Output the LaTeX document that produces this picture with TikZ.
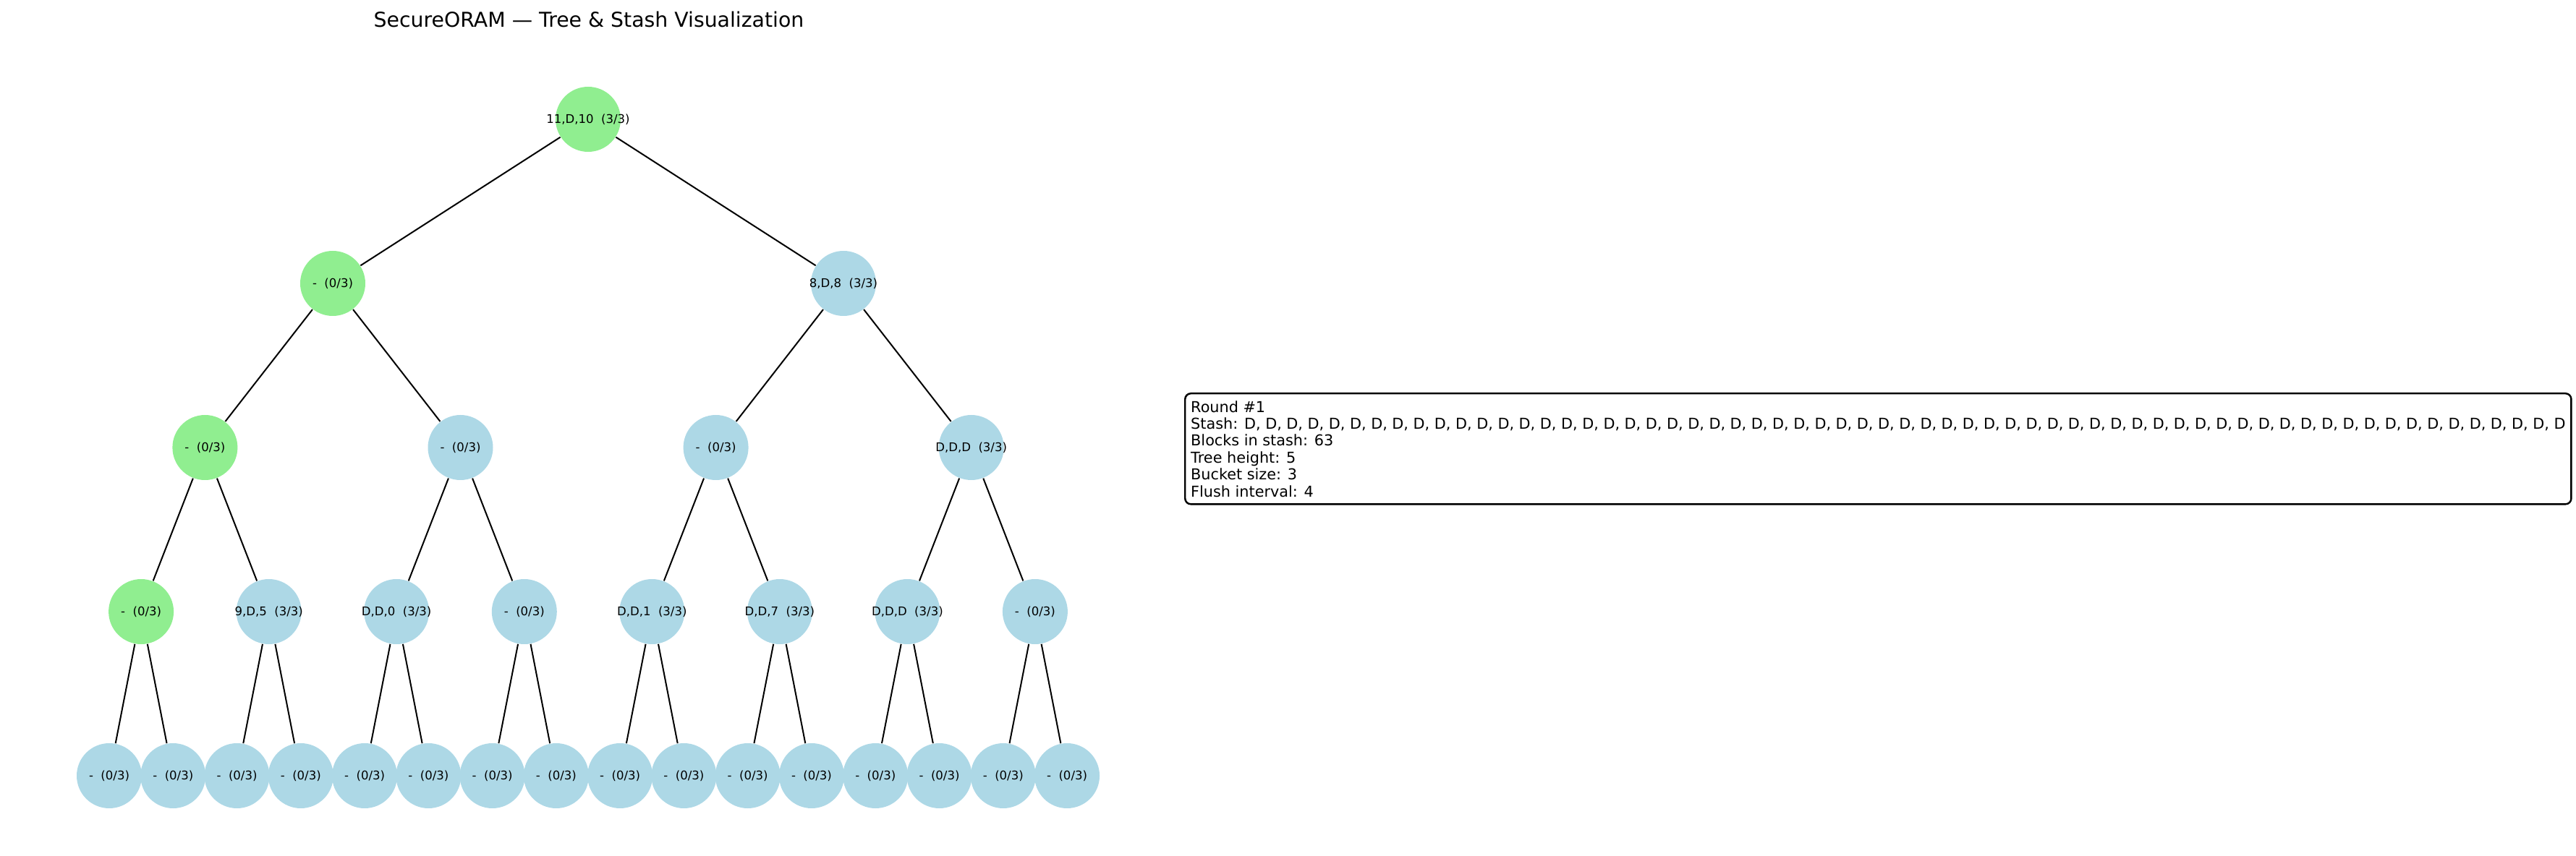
\documentclass[tikz,border=0pt]{standalone}
\usepackage{fontspec}
\setmainfont{DejaVu Sans}
\definecolor{lgreen}{HTML}{90EE90}
\definecolor{lblue}{HTML}{ADD8E6}
\newcommand{\blab}[1]{\makebox[0pt][c]{#1}}
\tikzset{
  bucket/.style={circle, minimum size=0.9cm, inner sep=0pt, fill=lblue, font=\fontsize{4.7}{5.6}\selectfont},
  pathbucket/.style={bucket, fill=lgreen},
  edge/.style={draw=black, line width=0.57pt},
  infobox/.style={draw=black, line width=0.7pt, rounded corners=0.08cm, fill=white, align=left, inner xsep=0.08cm, inner ysep=0.1cm, font=\fontsize{5.91}{6.66}\selectfont}
}
\begin{document}
\begin{tikzpicture}
\useasboundingbox (0,0) rectangle (35.61,-11.84);
\node[anchor=base, font=\fontsize{8.06}{9.6}\selectfont] (title) at (8.14,-0.38) {SecureORAM — Tree \& Stash Visualization};
% level 0
\node[pathbucket] (r1) at (8.13,-1.65) {\blab{11,D,10\ \ (3/3)}};
% level 1
\node[pathbucket] (r2) at (4.60,-3.92) {\blab{-\ \ (0/3)}};
\node[bucket] (r3) at (11.66,-3.92) {\blab{8,D,8\ \ (3/3)}};
% level 2
\node[pathbucket] (r4) at (2.834,-6.19) {\blab{-\ \ (0/3)}};
\node[bucket] (r5) at (6.365,-6.19) {\blab{-\ \ (0/3)}};
\node[bucket] (r6) at (9.896,-6.19) {\blab{-\ \ (0/3)}};
\node[bucket] (r7) at (13.427,-6.19) {\blab{D,D,D\ \ (3/3)}};
% level 3
\node[pathbucket] (r8) at (1.951,-8.46) {\blab{-\ \ (0/3)}};
\node[bucket] (r9) at (3.717,-8.46) {\blab{9,D,5\ \ (3/3)}};
\node[bucket] (r10) at (5.482,-8.46) {\blab{D,D,0\ \ (3/3)}};
\node[bucket] (r11) at (7.248,-8.46) {\blab{-\ \ (0/3)}};
\node[bucket] (r12) at (9.013,-8.46) {\blab{D,D,1\ \ (3/3)}};
\node[bucket] (r13) at (10.779,-8.46) {\blab{D,D,7\ \ (3/3)}};
\node[bucket] (r14) at (12.544,-8.46) {\blab{D,D,D\ \ (3/3)}};
\node[bucket] (r15) at (14.309,-8.46) {\blab{-\ \ (0/3)}};
% level 4 (leaves)
\foreach \i in {0,...,15} {
  \pgfmathtruncatemacro\k{16+\i}
  \node[bucket] (r\k) at ({1.51+0.8827*\i},-10.73) {\blab{-\ \ (0/3)}};
}
% edges
\foreach \i in {2,...,31} {
  \pgfmathtruncatemacro\p{\i/2}
  \draw[edge] (r\p) -- (r\i);
}
% info box
\node[infobox, anchor=north west] (info) at (16.37,-5.43) {Round \#1\\
Stash: D, D, D, D, D, D, D, D, D, D, D, D, D, D, D, D, D, D, D, D, D, D, D, D, D, D, D, D, D, D, D, D, D, D, D, D, D, D, D, D, D, D, D, D, D, D, D, D, D, D, D, D, D, D, D, D, D, D, D, D, D, D, D\\
Blocks in stash: 63\\
Tree height: 5\\
Bucket size: 3\\
Flush interval: 4};
\end{tikzpicture}
\end{document}
